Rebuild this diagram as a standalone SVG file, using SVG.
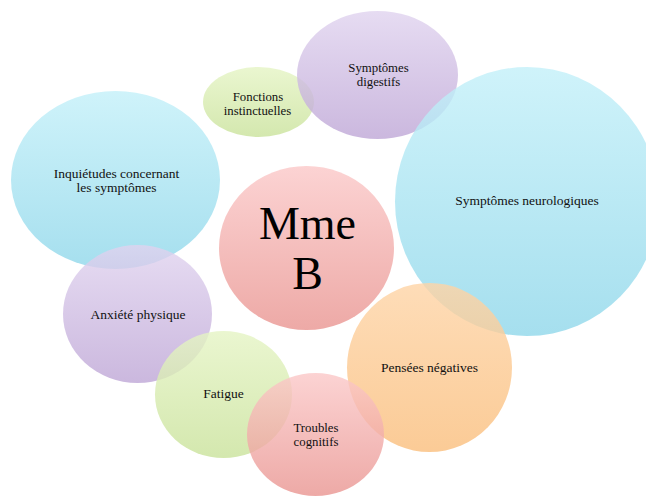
<svg xmlns="http://www.w3.org/2000/svg" width="646" height="496" viewBox="0 0 646 496">
<defs>
<linearGradient id="gBlue" x1="0" y1="0" x2="0" y2="1"><stop offset="0" stop-color="#C3F0F9"/><stop offset="1" stop-color="#8FD7EA"/></linearGradient>
<linearGradient id="gPurple" x1="0" y1="0" x2="0" y2="1"><stop offset="0" stop-color="#E0D3EF"/><stop offset="1" stop-color="#BEA6D6"/></linearGradient>
<linearGradient id="gGreen" x1="0" y1="0" x2="0" y2="1"><stop offset="0" stop-color="#E5F4C4"/><stop offset="1" stop-color="#C9E29A"/></linearGradient>
<linearGradient id="gPink" x1="0" y1="0" x2="0" y2="1"><stop offset="0" stop-color="#FBC8C8"/><stop offset="1" stop-color="#E99490"/></linearGradient>
<linearGradient id="gOrange" x1="0" y1="0" x2="0" y2="1"><stop offset="0" stop-color="#FED4A6"/><stop offset="1" stop-color="#FABE7C"/></linearGradient>
</defs>
<style>
ellipse { fill-opacity: 0.8; stroke: none; }
.blue { fill: url(#gBlue); }
.purple { fill: url(#gPurple); }
.green { fill: url(#gGreen); }
.pink { fill: url(#gPink); }
.orange { fill: url(#gOrange); }
text { font-family: "Liberation Serif", "Times New Roman", serif; font-size: 13.5px; fill: #111; text-anchor: middle; }
.sm { font-size: 12.8px; }
.big { font-size: 46px; fill: #000; }
</style>
<rect width="646" height="496" fill="#FFFFFF"/>
<g id="node-mme-b">
<ellipse class="pink" cx="306.5" cy="248" rx="87.5" ry="82"/>
<text class="big" x="307.5" y="239">Mme</text>
<text class="big" x="307.5" y="289">B</text>
</g>
<g id="node-fonctions">
<ellipse class="green" cx="258.5" cy="102" rx="55.5" ry="35"/>
<text class="sm" x="258" y="100.5">Fonctions</text>
<text class="sm" x="257.5" y="114.5">instinctuelles</text>
</g>
<g id="node-digestifs">
<ellipse class="purple" cx="377.5" cy="75" rx="80.5" ry="64"/>
<text class="sm" x="378.5" y="72">Symptômes</text>
<text class="sm" x="378.5" y="86">digestifs</text>
</g>
<g id="node-inquietudes">
<ellipse class="blue" cx="115.5" cy="180" rx="104.5" ry="89"/>
<text x="116.5" y="178">Inquiétudes concernant</text>
<text x="116.5" y="191.5">les symptômes</text>
</g>
<g id="node-neuro">
<ellipse class="blue" cx="527" cy="201.5" rx="132" ry="134.5"/>
<text x="527" y="205">Symptômes neurologiques</text>
</g>
<g id="node-anxiete">
<ellipse class="purple" cx="137.5" cy="314" rx="74.5" ry="69"/>
<text x="138" y="319">Anxiété physique</text>
</g>
<g id="node-pensees">
<ellipse class="orange" cx="429.5" cy="367.5" rx="82.5" ry="84.5"/>
<text x="429.5" y="371.5">Pensées négatives</text>
</g>
<g id="node-fatigue">
<ellipse class="green" cx="223.5" cy="394.5" rx="68.5" ry="63.5"/>
<text x="223.5" y="398">Fatigue</text>
</g>
<g id="node-troubles">
<ellipse class="pink" cx="315.5" cy="434.5" rx="68.5" ry="61.5"/>
<text class="sm" x="316" y="431.5">Troubles</text>
<text class="sm" x="316" y="445.5">cognitifs</text>
</g>
<g id="connectors"></g>
</svg>
